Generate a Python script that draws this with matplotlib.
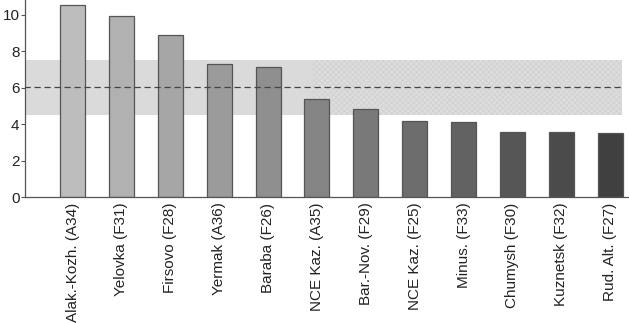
import matplotlib
matplotlib.use('Agg')
import matplotlib.pyplot as plt
import numpy as np

plt.rcParams['font.family'] = ['Liberation Sans', 'DejaVu Sans']
plt.rcParams['hatch.linewidth'] = 0.4

# data
regions = ['Alak.-Kozh. (A34)', 'Yelovka (F31)', 'Firsovo (F28)', 'Yermak (A36)',
           'Baraba (F26)', 'NCE Kaz. (A35)', 'Bar.-Nov. (F29)', 'NCE Kaz. (F25)',
           'Minus. (F33)', 'Chumysh (F30)', 'Kuznetsk (F32)', 'Rud. Alt. (F27)']
values = [10.55, 9.95, 8.86, 7.29, 7.14, 5.37, 4.85, 4.19, 4.14, 3.59, 3.55, 3.52]
band_low, band_high = 4.5, 7.5
mean_value = 6.05

# grey ramp, light to dark
shades = np.linspace(0.74, 0.25, len(values))
colors = [(s, s, s) for s in shades]

fig = plt.figure(figsize=(6.29, 3.23), dpi=100)
ax = fig.add_axes([0.04, 0.39, 0.958, 0.61])

x = np.arange(len(values))
x_end = x[-1] + 0.25

# shaded band (plain on the left, dithered-looking on the right)
ax.fill_between([-1.0, x_end], band_low, band_high, color='#dadada', lw=0, zorder=1)
ax.fill_between([4.9, x_end], band_low, band_high, facecolor='#dddddd',
                edgecolor='#cdcdcd', hatch='xxxxxx', lw=0, zorder=1)
ax.plot([-1.0, x_end], [mean_value, mean_value], ls=(0, (5, 3)),
        color='#444444', lw=0.9, zorder=3)

ax.bar(x, values, width=0.51, color=colors, edgecolor='#555555', lw=0.9, zorder=2)

ax.set_xlim(-0.97, 11.36)
ax.set_ylim(0, 10.8)
ax.set_yticks([0, 2, 4, 6, 8, 10])
ax.set_xticks(x)
ax.set_xticklabels(regions, rotation=90, fontsize=11, color='#222222')
ax.tick_params(axis='x', length=0, pad=4)
ax.tick_params(axis='y', length=3, width=0.8, color='#555555', labelsize=11,
               labelcolor='#222222', pad=1)

for side in ['top', 'right']:
    ax.spines[side].set_visible(False)
for side in ['left', 'bottom']:
    ax.spines[side].set_color('#555555')
    ax.spines[side].set_linewidth(0.9)

fig.savefig('out.png', dpi=100)
